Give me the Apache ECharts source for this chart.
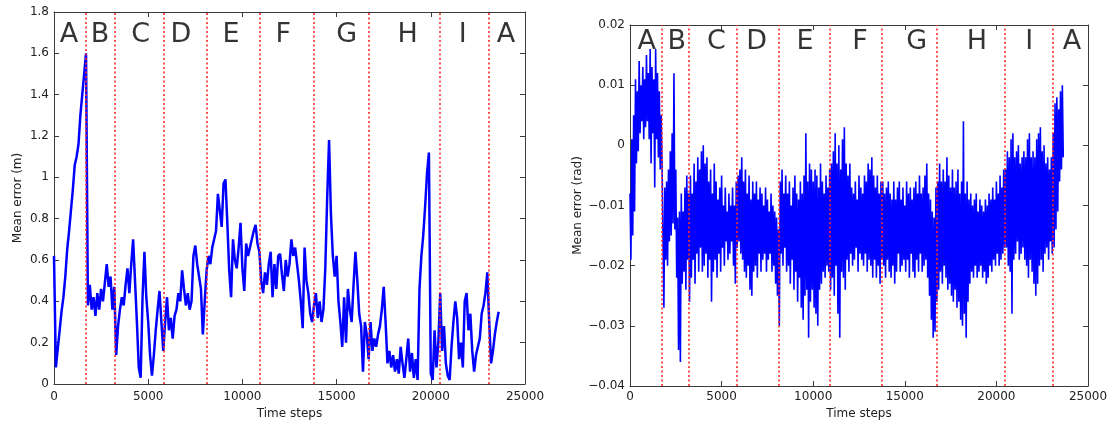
<!DOCTYPE html>
<html>
<head>
<meta charset="utf-8">
<script src="https://cdn.jsdelivr.net/npm/echarts@6.0.0/dist/echarts.min.js"></script>
<style>
  html, body { margin: 0; padding: 0; background: #ffffff; }
  #chart { width: 1112px; height: 421px; }
</style>
</head>
<body>
<div id="chart"></div>
<script>
// ---------------- DATA ----------------
const timeStep = 100; // sampling step of the traces (time steps)

// Segment boundaries (red dotted lines), in time steps
const segmentBounds = [1710, 3205, 5800, 8130, 10915, 13765, 16730, 20460, 23065];
const segmentLetters = ['A', 'B', 'C', 'D', 'E', 'F', 'G', 'H', 'I', 'A'];
const letterTimesLeft = [800, 2440, 4600, 6740, 9400, 12170, 15540, 18770, 21690, 23990];
const letterTimesRight = [910, 2550, 4720, 6910, 9550, 12550, 15650, 18930, 21790, 24120];

// Left chart: mean position error (m), one value every 100 steps from t = 0
const posErrA1 = [0.62, 0.08, 0.17, 0.26, 0.35, 0.42, 0.52, 0.65, 0.74, 0.84, 0.94, 1.06, 1.10, 1.16, 1.30, 1.40, 1.50, 1.60];
const posErrB = [0.38, 0.48, 0.36, 0.42, 0.33, 0.44, 0.36, 0.46, 0.40, 0.49, 0.58, 0.47, 0.52, 0.36, 0.47];
const posErrC = [0.14, 0.28, 0.36, 0.42, 0.38, 0.48, 0.56, 0.44, 0.58, 0.70, 0.50, 0.30, 0.08, 0.03, 0.42, 0.64, 0.42, 0.30, 0.14, 0.04, 0.14, 0.26, 0.36, 0.45, 0.30, 0.16];
const posErrD = [0.30, 0.42, 0.26, 0.32, 0.22, 0.33, 0.36, 0.44, 0.40, 0.55, 0.46, 0.38, 0.44, 0.36, 0.40, 0.62, 0.67, 0.58, 0.52, 0.46, 0.24, 0.40, 0.55];
const posErrE = [0.62, 0.58, 0.66, 0.70, 0.74, 0.92, 0.84, 0.76, 0.97, 0.99, 0.78, 0.55, 0.42, 0.70, 0.60, 0.56, 0.66, 0.78, 0.56, 0.45, 0.68, 0.62, 0.66, 0.70, 0.74, 0.77, 0.68, 0.64];
const posErrF = [0.50, 0.44, 0.54, 0.48, 0.58, 0.64, 0.42, 0.58, 0.46, 0.62, 0.63, 0.53, 0.45, 0.60, 0.52, 0.58, 0.70, 0.62, 0.66, 0.58, 0.50, 0.40, 0.27, 0.66, 0.50, 0.44, 0.34, 0.30];
const posErrG = [0.38, 0.44, 0.32, 0.40, 0.30, 0.36, 0.56, 0.90, 1.18, 0.82, 0.62, 0.52, 0.62, 0.40, 0.30, 0.18, 0.42, 0.20, 0.46, 0.36, 0.30, 0.48, 0.64, 0.50, 0.34, 0.28, 0.06, 0.30, 0.24, 0.12];
const posErrH = [0.30, 0.16, 0.22, 0.18, 0.24, 0.28, 0.36, 0.47, 0.30, 0.10, 0.16, 0.08, 0.14, 0.06, 0.12, 0.05, 0.18, 0.10, 0.03, 0.12, 0.22, 0.06, 0.15, 0.03, 0.12, 0.02, 0.46, 0.62, 0.72, 0.86, 1.02, 1.12, 0.05, 0.02, 0.26, 0.08, 0.20];
const posErrI = [0.44, 0.16, 0.28, 0.10, 0.04, 0.02, 0.18, 0.30, 0.40, 0.32, 0.12, 0.20, 0.08, 0.40, 0.44, 0.26, 0.34, 0.16, 0.06, 0.14, 0.18, 0.22, 0.34, 0.38, 0.44, 0.54];
const posErrA2 = [0.30, 0.10, 0.16, 0.24, 0.30, 0.35];

// Right chart: mean heading error (rad), upper and lower extent of the noisy band every 100 steps
const angUpper = [
  // A
  -0.008, 0.001, 0.005, 0.011, 0.009, 0.014, 0.010, 0.013, 0.011, 0.015, 0.012, 0.016, 0.013, 0.011, 0.016, 0.012, 0.009, 0.005,
  // B
  -0.003, -0.007, -0.006, -0.004, -0.001, 0.002, 0.012, -0.004, -0.012, -0.011, -0.008, -0.011, -0.007, -0.005, -0.008,
  // C
  -0.005, -0.008, -0.003, -0.006, -0.002, -0.004, -0.001, 0.000, -0.003, -0.002, -0.006, -0.004, -0.008, -0.003, -0.006, -0.009, -0.007, -0.005, -0.010, -0.007, -0.011, -0.008, -0.010, -0.007, -0.010, -0.006,
  // D
  -0.005, -0.004, -0.002, -0.006, -0.004, -0.008, -0.005, -0.009, -0.006, -0.008, -0.006, -0.009, -0.007, -0.008, -0.010, -0.007, -0.009, -0.011, -0.008, -0.010, -0.011, -0.012, -0.014,
  // E
  -0.006, -0.004, -0.008, -0.005, -0.008, -0.006, -0.010, -0.007, -0.005, -0.008, -0.009, -0.006, -0.008, -0.005, 0.002, -0.006, -0.003, -0.004, -0.006, -0.004, -0.005, -0.007, -0.003, -0.006, -0.008, -0.005, -0.007, -0.004,
  // F
  -0.003, -0.001, 0.002, -0.003, 0.000, -0.004, 0.001, 0.003, -0.003, -0.005, -0.003, -0.007, -0.008, -0.006, -0.009, -0.005, -0.007, -0.008, -0.005, -0.006, -0.003, -0.004, -0.002, -0.005, -0.007, -0.005, -0.008, -0.006,
  // G
  -0.006, -0.008, -0.007, -0.006, -0.008, -0.009, -0.006, -0.009, -0.007, -0.006, -0.009, -0.007, -0.010, -0.006, -0.008, -0.007, -0.009, -0.007, -0.006, -0.008, -0.005, -0.008, -0.007, -0.005, -0.003, -0.008, -0.009, -0.011, -0.012, -0.007,
  // H
  -0.006, -0.003, -0.006, -0.004, -0.006, -0.002, -0.005, -0.007, -0.004, -0.007, -0.006, -0.004, -0.008, -0.006, 0.004, -0.008, -0.006, -0.009, -0.008, -0.010, -0.009, -0.008, -0.011, -0.009, -0.010, -0.011, -0.009, -0.010, -0.008, -0.009, -0.007, -0.009, -0.006, -0.008, -0.005, -0.007, -0.004,
  // I
  -0.004, -0.001, -0.002, 0.001, 0.002, -0.002, -0.001, 0.000, -0.003, -0.002, -0.001, -0.002, 0.001, 0.002, -0.002, -0.001, -0.002, 0.001, 0.002, 0.003, -0.001, 0.000, -0.003, -0.002, -0.004, -0.002,
  // A
  0.002, 0.007, 0.008, 0.006, 0.009, 0.010
];
const angLower = [
  // A
  -0.019, -0.015, -0.011, -0.003, -0.001, 0.002, 0.004, 0.001, 0.003, 0.004, 0.001, -0.003, 0.002, -0.007, 0.001, -0.002, -0.004, -0.003,
  // B
  -0.027, -0.019, -0.020, -0.016, -0.015, -0.013, -0.014, -0.022, -0.034, -0.036, -0.023, -0.021, -0.024, -0.019, -0.026,
  // C
  -0.022, -0.019, -0.023, -0.018, -0.021, -0.017, -0.021, -0.020, -0.018, -0.022, -0.019, -0.026, -0.021, -0.019, -0.022, -0.018, -0.021, -0.017, -0.020, -0.016, -0.019, -0.018, -0.016, -0.020, -0.023, -0.017,
  // D
  -0.016, -0.018, -0.019, -0.021, -0.022, -0.020, -0.024, -0.025, -0.021, -0.020, -0.022, -0.018, -0.021, -0.019, -0.018, -0.021, -0.019, -0.018, -0.021, -0.020, -0.023, -0.025, -0.030,
  // E
  -0.018, -0.020, -0.017, -0.021, -0.020, -0.023, -0.019, -0.024, -0.021, -0.026, -0.022, -0.027, -0.029, -0.025, -0.024, -0.032, -0.026, -0.024, -0.027, -0.028, -0.030, -0.024, -0.023, -0.021, -0.022, -0.020, -0.021, -0.024,
  // F
  -0.022, -0.025, -0.020, -0.028, -0.032, -0.021, -0.022, -0.024, -0.019, -0.021, -0.018, -0.020, -0.019, -0.017, -0.021, -0.018, -0.019, -0.020, -0.018, -0.021, -0.019, -0.020, -0.022, -0.019, -0.022, -0.020, -0.023, -0.019,
  // G
  -0.020, -0.022, -0.019, -0.021, -0.022, -0.020, -0.023, -0.021, -0.018, -0.021, -0.020, -0.019, -0.021, -0.019, -0.022, -0.018, -0.021, -0.022, -0.019, -0.021, -0.018, -0.021, -0.020, -0.019, -0.022, -0.025, -0.029, -0.032, -0.031, -0.026,
  // H
  -0.024, -0.021, -0.023, -0.020, -0.022, -0.024, -0.023, -0.025, -0.026, -0.024, -0.027, -0.026, -0.029, -0.030, -0.028, -0.032, -0.026, -0.023, -0.021, -0.022, -0.020, -0.022, -0.021, -0.020, -0.022, -0.021, -0.023, -0.022, -0.020, -0.021, -0.019, -0.020, -0.018, -0.020, -0.019, -0.018, -0.017,
  // I
  -0.017, -0.020, -0.021, -0.028, -0.019, -0.018, -0.016, -0.019, -0.018, -0.017, -0.019, -0.020, -0.022, -0.019, -0.021, -0.023, -0.025, -0.023, -0.020, -0.019, -0.021, -0.018, -0.017, -0.019, -0.016, -0.018,
  // A
  -0.017, -0.014, -0.011, -0.006, -0.004, -0.002
];

// Tick labels
const xTickLabels = ['0', '5000', '10000', '15000', '20000', '25000'];
const leftYTickLabels = ['0', '0.2', '0.4', '0.6', '0.8', '1', '1.2', '1.4', '1.6', '1.8'];
const rightYTickLabels = ['\u22120.04', '\u22120.03', '\u22120.02', '\u22120.01', '0', '0.01', '0.02'];

// ---------------- BUILD ----------------
const posErr = [].concat(posErrA1, posErrB, posErrC, posErrD, posErrE, posErrF, posErrG, posErrH, posErrI, posErrA2);
const leftData = posErr.map((v, i) => [i * timeStep, v]);
const rightData = [];
angUpper.forEach((u, i) => {
  rightData.push([i * timeStep, u]);
  rightData.push([i * timeStep + timeStep / 2, angLower[i]]);
});

const AXIS_COLOR = '#3a3a3a';
const FONT = 'DejaVu Sans';
const tickText = { color: '#222', fontSize: 12, fontFamily: FONT };

function xAxes(grid, gap, labelMargin) {
  const common = {
    gridIndex: grid, type: 'value', min: 0, max: 25000, interval: 5000,
    splitLine: { show: false },
    axisLine: { show: true, onZero: false, lineStyle: { color: AXIS_COLOR, width: 1 } },
    axisTick: { show: true, inside: true, length: 5, lineStyle: { color: AXIS_COLOR } }
  };
  return [
    Object.assign({}, common, {
      position: 'bottom',
      axisLabel: Object.assign({ margin: labelMargin, formatter: (v) => xTickLabels[Math.round(v / 5000)] }, tickText),
      name: 'Time steps', nameLocation: 'middle', nameGap: gap,
      nameTextStyle: { color: '#222', fontSize: 12, fontFamily: FONT }
    }),
    Object.assign({}, common, { position: 'top', axisLabel: { show: false } })
  ];
}

function yAxes(grid, min, max, interval, labels, name, gap) {
  const common = {
    gridIndex: grid, type: 'value', min: min, max: max, interval: interval,
    splitLine: { show: false },
    axisLine: { show: true, onZero: false, lineStyle: { color: AXIS_COLOR, width: 1 } },
    axisTick: { show: true, inside: true, length: 5, lineStyle: { color: AXIS_COLOR } }
  };
  return [
    Object.assign({}, common, {
      position: 'left',
      axisLabel: Object.assign({ margin: 5, formatter: (v) => labels[Math.round((v - min) / interval)] }, tickText),
      name: name, nameLocation: 'middle', nameGap: gap, nameRotate: 90,
      nameTextStyle: { color: '#222', fontSize: 12, fontFamily: FONT }
    }),
    Object.assign({}, common, { position: 'right', axisLabel: { show: false } })
  ];
}

function letterSeries(xi, yi, times, yPos) {
  return {
    type: 'scatter', xAxisIndex: xi, yAxisIndex: yi, symbolSize: 1, silent: true,
    itemStyle: { color: 'rgba(0,0,0,0)' },
    label: { show: true, position: 'inside', formatter: '{b}', color: '#000', fontSize: 27, fontFamily: FONT },
    data: segmentLetters.map((l, i) => ({ name: l, value: [times[i], yPos] })),
    z: 5
  };
}

function boundarySeries(xi, yi) {
  return {
    type: 'line', xAxisIndex: xi, yAxisIndex: yi, data: [], silent: true,
    markLine: {
      silent: true, symbol: ['none', 'none'], label: { show: false },
      lineStyle: { color: '#ff2a2a', width: 1.6, type: [2, 2.5] },
      data: segmentBounds.map((b) => ({ xAxis: b }))
    },
    z: 4
  };
}

const option = {
  animation: false,
  backgroundColor: '#ffffff',
  grid: [
    { left: 54, top: 12, width: 471, height: 372, outerBoundsMode: 'none', containLabel: false },
    { left: 630, top: 25, width: 458, height: 361, outerBoundsMode: 'none', containLabel: false }
  ],
  xAxis: [].concat(xAxes(0, 22, 7), xAxes(1, 21, 5)),
  yAxis: [].concat(
    yAxes(0, 0, 1.8, 0.2, leftYTickLabels, 'Mean error (m)', 30),
    yAxes(1, -0.04, 0.02, 0.01, rightYTickLabels, 'Mean error (rad)', 42)
  ),
  series: [
    {
      type: 'line', xAxisIndex: 0, yAxisIndex: 0, data: leftData,
      showSymbol: false, symbol: 'none', silent: true,
      lineStyle: { color: '#0000ff', width: 2.5 }, z: 2
    },
    {
      type: 'line', xAxisIndex: 2, yAxisIndex: 2, data: rightData,
      showSymbol: false, symbol: 'none', silent: true,
      lineStyle: { color: '#0000ff', width: 1.6, join: 'bevel' }, z: 2
    },
    boundarySeries(0, 0),
    boundarySeries(2, 2),
    letterSeries(0, 0, letterTimesLeft, 1.69),
    letterSeries(2, 2, letterTimesRight, 0.0171)
  ]
};

const chart = echarts.init(document.getElementById('chart'), null, { renderer: 'canvas' });
chart.setOption(option);
</script>
</body>
</html>
